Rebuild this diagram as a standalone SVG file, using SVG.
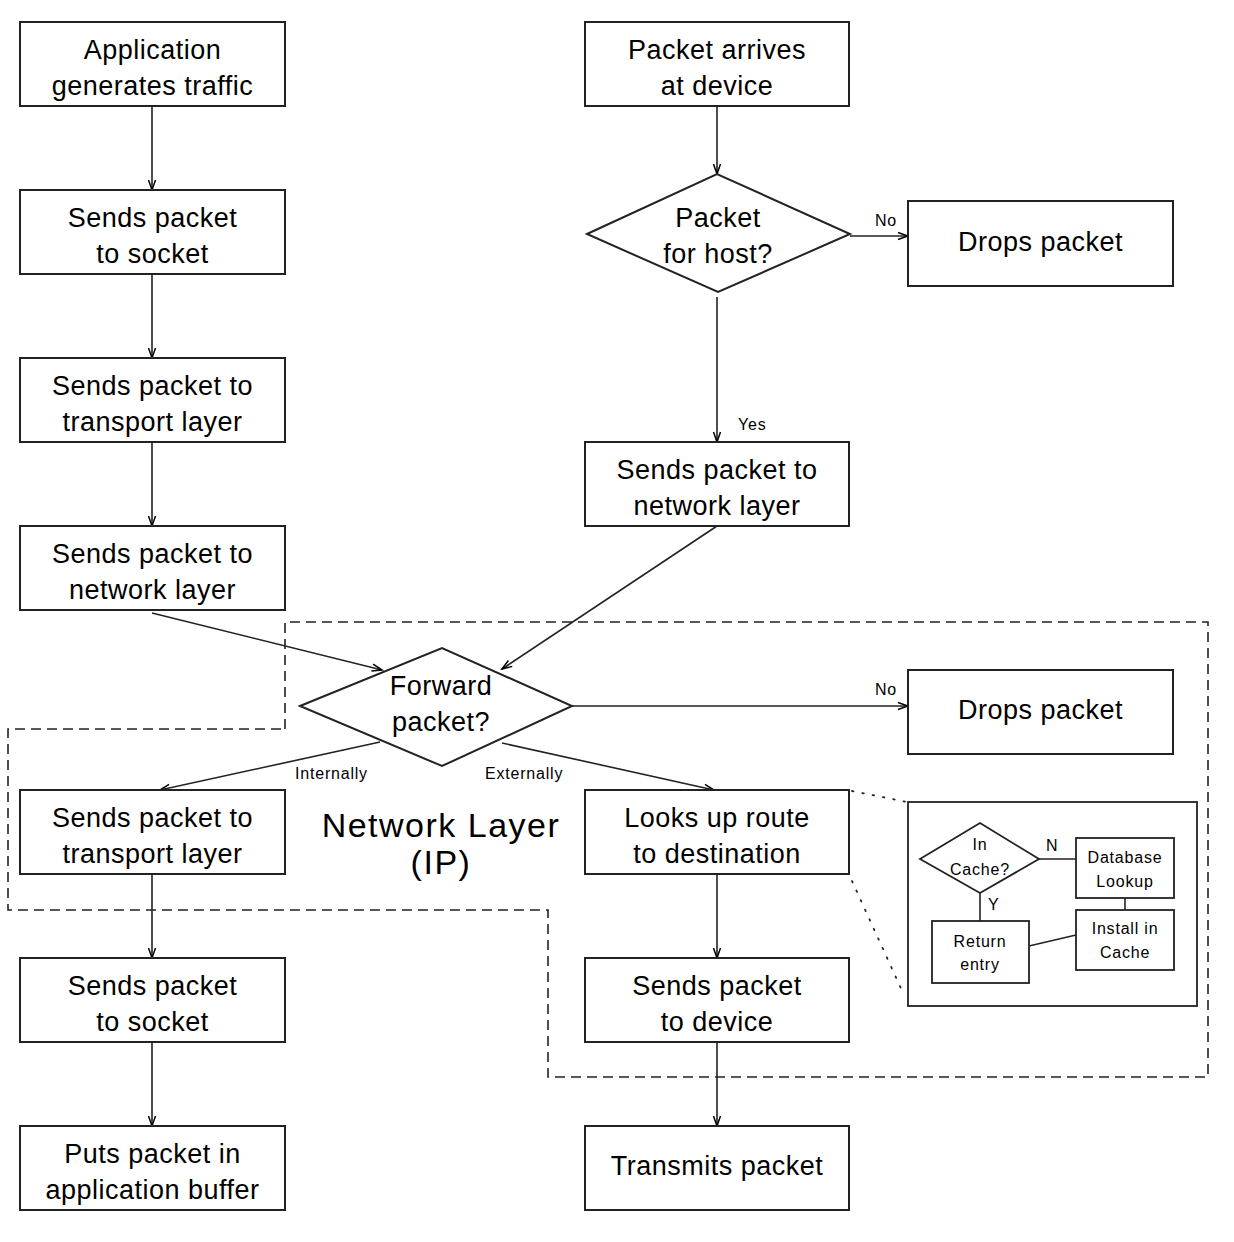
<svg xmlns="http://www.w3.org/2000/svg" width="1234" height="1242" viewBox="0 0 1234 1242">
<defs>
<marker id="arr" markerUnits="userSpaceOnUse" markerWidth="14" markerHeight="10" viewBox="-12 -5 14 10" refX="0" refY="0" orient="auto">
<path d="M-10,-3.5 L0,0 L-10,3.5" fill="none" stroke="#000" stroke-width="1.5"/>
</marker>
</defs>
<style>
.box{fill:#fff;stroke:#222;stroke-width:2}
.sbox{fill:#fff;stroke:#222;stroke-width:1.8}
.t{font-family:"Liberation Sans",Arial,sans-serif;font-size:27px;letter-spacing:0.5px;text-anchor:middle;fill:#000}
.big{font-family:"Liberation Sans",Arial,sans-serif;font-size:34px;letter-spacing:1.5px;text-anchor:middle;fill:#000}
.lbl{font-family:"Liberation Sans",Arial,sans-serif;font-size:16px;letter-spacing:0.8px;fill:#000}
.st{font-family:"Liberation Sans",Arial,sans-serif;font-size:16px;letter-spacing:0.8px;text-anchor:middle;fill:#000}
.c{fill:none;stroke:#222;stroke-width:1.6}
.dash{fill:none;stroke:#222;stroke-width:1.6;stroke-dasharray:10 6}
.dot{fill:none;stroke:#222;stroke-width:1.8;stroke-dasharray:1.5 9;stroke-linecap:round}
</style>
<rect width="1234" height="1242" fill="#fff"/>

<g id="region">
<path class="dash" d="M285,729 V622 H1208 V1077 H548 V910 H8 V729 Z"/>
<text class="big" x="441" y="837">Network Layer</text>
<text class="big" x="441" y="874">(IP)</text>
</g>

<g id="connectors">
<path class="c" d="M152,106 V190" marker-end="url(#arr)"/>
<path class="c" d="M152,274 V358" marker-end="url(#arr)"/>
<path class="c" d="M152,442 V526" marker-end="url(#arr)"/>
<path class="c" d="M152,874 V958" marker-end="url(#arr)"/>
<path class="c" d="M152,1042 V1126" marker-end="url(#arr)"/>
<path class="c" d="M717,106 V174" marker-end="url(#arr)"/>
<path class="c" d="M717,297 V442" marker-end="url(#arr)"/>
<path class="c" d="M850,236 H908" marker-end="url(#arr)"/>
<path class="c" d="M717,526 L502,669" marker-end="url(#arr)"/>
<path class="c" d="M152,613 L382,670" marker-end="url(#arr)"/>
<path class="c" d="M572,706 H908" marker-end="url(#arr)"/>
<path class="c" d="M380,742 L160,790" marker-end="url(#arr)"/>
<path class="c" d="M502,743 L714,790" marker-end="url(#arr)"/>
<path class="c" d="M717,874 V958" marker-end="url(#arr)"/>
<path class="c" d="M717,1042 V1126" marker-end="url(#arr)"/>
<text class="lbl" x="875" y="226">No</text>
<text class="lbl" x="738" y="430">Yes</text>
<text class="lbl" x="875" y="695">No</text>
<text class="lbl" x="295" y="779">Internally</text>
<text class="lbl" x="485" y="779">Externally</text>
<path class="dot" d="M852,791 L907,802"/>
<path class="dot" d="M852,881 L904,995"/>
</g>

<g id="n_app">
<rect class="box" x="20" y="22" width="265" height="84"/>
<text class="t" x="152.5" y="59">Application</text>
<text class="t" x="152.5" y="95">generates traffic</text>
</g>
<g id="n_socket1">
<rect class="box" x="20" y="190" width="265" height="84"/>
<text class="t" x="152.5" y="227">Sends packet</text>
<text class="t" x="152.5" y="263">to socket</text>
</g>
<g id="n_transport1">
<rect class="box" x="20" y="358" width="265" height="84"/>
<text class="t" x="152.5" y="395">Sends packet to</text>
<text class="t" x="152.5" y="431">transport layer</text>
</g>
<g id="n_network1">
<rect class="box" x="20" y="526" width="265" height="84"/>
<text class="t" x="152.5" y="563">Sends packet to</text>
<text class="t" x="152.5" y="599">network layer</text>
</g>
<g id="n_transport2">
<rect class="box" x="20" y="790" width="265" height="84"/>
<text class="t" x="152.5" y="827">Sends packet to</text>
<text class="t" x="152.5" y="863">transport layer</text>
</g>
<g id="n_socket2">
<rect class="box" x="20" y="958" width="265" height="84"/>
<text class="t" x="152.5" y="995">Sends packet</text>
<text class="t" x="152.5" y="1031">to socket</text>
</g>
<g id="n_buffer">
<rect class="box" x="20" y="1126" width="265" height="84"/>
<text class="t" x="152.5" y="1163">Puts packet in</text>
<text class="t" x="152.5" y="1199">application buffer</text>
</g>

<g id="n_arrives">
<rect class="box" x="585" y="22" width="264" height="84"/>
<text class="t" x="717" y="59">Packet arrives</text>
<text class="t" x="717" y="95">at device</text>
</g>
<g id="n_forhost">
<path class="box" d="M587,234 L717,174 L850,234 L718,292 Z"/>
<text class="t" x="718" y="227">Packet</text>
<text class="t" x="718" y="263">for host?</text>
</g>
<g id="n_drops1">
<rect class="box" x="908" y="201" width="265" height="85"/>
<text class="t" x="1040.5" y="251">Drops packet</text>
</g>
<g id="n_network2">
<rect class="box" x="585" y="442" width="264" height="84"/>
<text class="t" x="717" y="479">Sends packet to</text>
<text class="t" x="717" y="515">network layer</text>
</g>
<g id="n_forward">
<path class="box" d="M300,706 L442,648 L572,706 L442,766 Z"/>
<text class="t" x="441" y="695">Forward</text>
<text class="t" x="441" y="731">packet?</text>
</g>
<g id="n_drops2">
<rect class="box" x="908" y="670" width="265" height="84"/>
<text class="t" x="1040.5" y="719">Drops packet</text>
</g>
<g id="n_lookup">
<rect class="box" x="585" y="790" width="264" height="84"/>
<text class="t" x="717" y="827">Looks up route</text>
<text class="t" x="717" y="863">to destination</text>
</g>
<g id="n_device">
<rect class="box" x="585" y="958" width="264" height="84"/>
<text class="t" x="717" y="995">Sends packet</text>
<text class="t" x="717" y="1031">to device</text>
</g>
<g id="n_transmit">
<rect class="box" x="585" y="1126" width="264" height="84"/>
<text class="t" x="717" y="1175">Transmits packet</text>
</g>

<g id="inset">
<rect class="sbox" x="908" y="802" width="289" height="204"/>
<path class="c" d="M1039,859 H1076 M1125,898 V910 M980,893 V921 M1076,935 L1029,946"/>
<path class="sbox" d="M920,859 L980,823 L1039,859 L980,893 Z"/>
<text class="st" x="980" y="850">In</text>
<text class="st" x="980" y="875">Cache?</text>
<text class="lbl" x="1046" y="851">N</text>
<text class="lbl" x="988" y="910">Y</text>
<rect class="sbox" x="1076" y="838" width="98" height="60"/>
<text class="st" x="1125" y="863">Database</text>
<text class="st" x="1125" y="887">Lookup</text>
<rect class="sbox" x="1076" y="910" width="98" height="60"/>
<text class="st" x="1125" y="934">Install in</text>
<text class="st" x="1125" y="958">Cache</text>
<rect class="sbox" x="932" y="921" width="97" height="62"/>
<text class="st" x="980" y="947">Return</text>
<text class="st" x="980" y="970">entry</text>
</g>
</svg>
